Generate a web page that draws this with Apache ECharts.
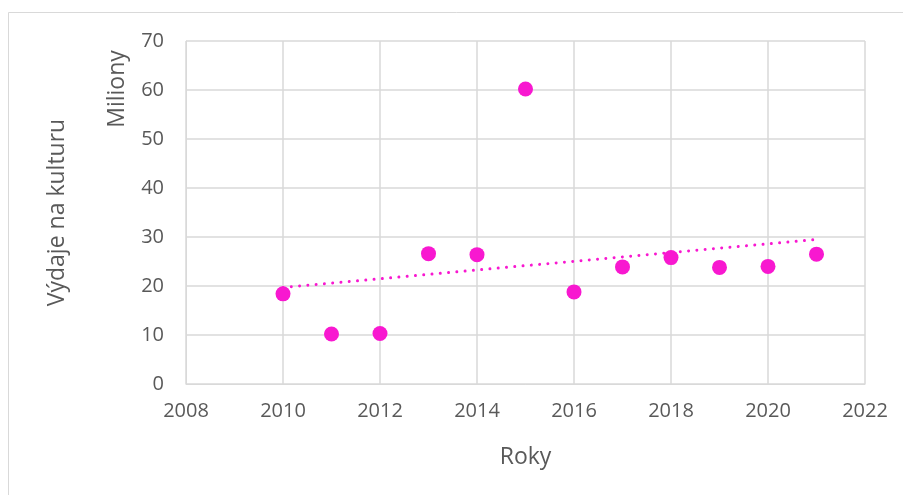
<!DOCTYPE html>
<html>
<head>
<meta charset="utf-8">
<script src="https://cdn.jsdelivr.net/npm/echarts@6/dist/echarts.min.js"></script>
<style>
  html, body { margin: 0; padding: 0; background: #fff; }
  #chart { width: 903px; height: 495px; }
</style>
</head>
<body>
<div id="chart"></div>
<script>
// roky a vydaje (miliony)
var years = [2010, 2011, 2012, 2013, 2014, 2015, 2016, 2017, 2018, 2019, 2020, 2021]
var spending = [18.4, 10.2, 10.3, 26.6, 26.4, 60.2, 18.8, 23.9, 25.8, 23.8, 24.0, 26.5]
// linearni trend - konce cary
var trendYears = [2010, 2021]
var trendValues = [19.7, 29.5]

var points = years.map(function (y, i) { return [y, spending[i]] })
var trend = trendYears.map(function (y, i) { return [y, trendValues[i]] })

var pink = '#F818D0'
var txt = '#595959'
var font = 'Open Sans'

var chart = echarts.init(document.getElementById('chart'))
chart.setOption({
  animation: false,
  backgroundColor: '#fff',
  grid: { left: 186, right: 38, top: 41, bottom: 111 },
  xAxis: {
    type: 'value',
    min: 2008, max: 2022, interval: 2,
    name: 'Roky',
    nameLocation: 'middle',
    nameGap: 62,
    nameTextStyle: { color: txt, fontSize: 23, fontFamily: font },
    axisLine: { show: true, lineStyle: { color: '#d9d9d9' } },
    axisTick: { show: false },
    axisLabel: { color: txt, fontSize: 20, fontFamily: font, margin: 17, formatter: function (v) { return String(v) } },
    splitLine: { lineStyle: { color: '#d9d9d9', width: 1.5 } }
  },
  yAxis: {
    type: 'value',
    min: 0, max: 70, interval: 10,
    name: 'Výdaje na kulturu',
    nameLocation: 'middle',
    nameGap: 117,
    nameTextStyle: { color: txt, fontSize: 23, fontFamily: font },
    axisLine: { show: true, lineStyle: { color: '#d9d9d9' } },
    axisTick: { show: false },
    axisLabel: { color: txt, fontSize: 20, fontFamily: font, margin: 22 },
    splitLine: { lineStyle: { color: '#d9d9d9', width: 1.5 } }
  },
  graphic: [
    {
      type: 'rect', silent: true, z: -1,
      shape: { x: 8.5, y: 12.5, width: 1200, height: 1200 },
      style: { fill: 'none', stroke: '#d9d9d9', lineWidth: 1 }
    },
    {
      type: 'text', x: 117, y: 89, rotation: Math.PI / 2,
      style: { text: 'Miliony', fill: txt, fontSize: 23, fontFamily: font, align: 'center', verticalAlign: 'middle' }
    }
  ],
  series: [
    {
      type: 'line',
      data: trend,
      symbol: 'none',
      lineStyle: { color: pink, width: 3, type: [0.01, 8.3], cap: 'round' },
      z: 1
    },
    {
      type: 'scatter',
      data: points,
      symbolSize: 15,
      itemStyle: { color: pink, opacity: 1 },
      z: 2
    }
  ]
})
</script>
</body>
</html>
